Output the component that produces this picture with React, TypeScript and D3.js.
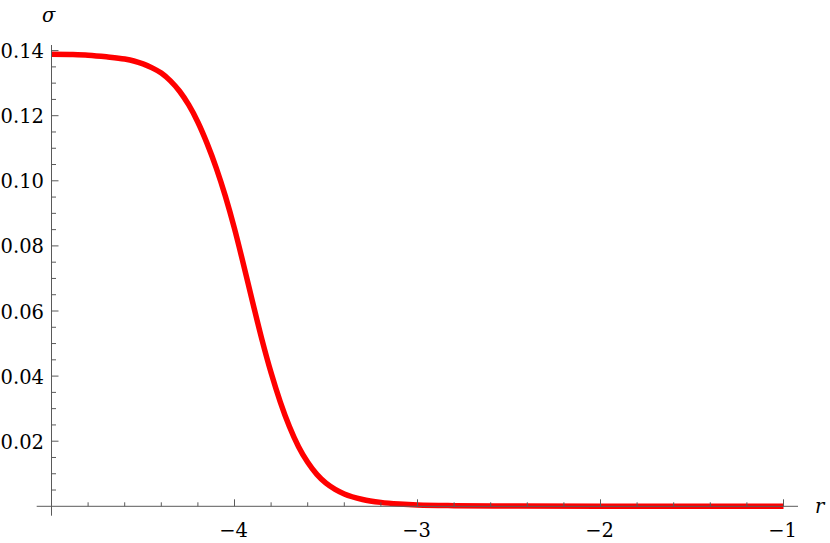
import { useEffect, useRef } from 'react';
import * as d3 from 'd3';

// values (r along x, sigma along y)
const rValues = [-5, -4.9, -4.8, -4.7, -4.6, -4.55, -4.5, -4.45, -4.4, -4.35, -4.3, -4.25, -4.2, -4.15, -4.1, -4.05, -4.0, -3.95, -3.9, -3.85, -3.8, -3.75, -3.7, -3.65, -3.6, -3.55, -3.5, -3.45, -3.4, -3.3, -3.2, -3.1, -3.0, -2.8, -2.5, -2.0, -1.5, -1.0];
const sigmaValues = [0.1389, 0.1388, 0.1386, 0.1381, 0.1374, 0.1368, 0.1359, 0.1347, 0.1331, 0.1307, 0.1275, 0.1233, 0.1180, 0.1115, 0.1040, 0.0953, 0.0853, 0.0741, 0.0625, 0.0512, 0.0410, 0.0321, 0.0245, 0.0183, 0.0135, 0.0098, 0.0071, 0.0052, 0.0038, 0.0021, 0.0012, 0.0007, 0.0004, 0.0002, 0.0001, 0, 0, 0];

const xMajorTicks = [-4, -3, -2, -1];
const yMajorTicks = [0.02, 0.04, 0.06, 0.08, 0.1, 0.12, 0.14];
const yTickLabels = ['0.02', '0.04', '0.06', '0.08', '0.10', '0.12', '0.14'];

export default function App() {
    const ref = useRef<SVGSVGElement>(null);

    useEffect(() => {
        const svg = d3.select(ref.current);
        svg.selectAll('*').remove();

        const x = d3.scaleLinear().domain([-5, -1]).range([51.5, 783.5]);
        const y = d3.scaleLinear().domain([0, 0.14]).range([506.3, 50.6]);
        const axisColor = '#5a5a5a';
        const font = "'DejaVu Serif', serif";
        const fontSize = '19.5px';

        // curve first, axes get drawn over it
        const pts = rValues.map((r, i) => [r, sigmaValues[i]] as [number, number]);
        svg.append('path')
            .datum(pts)
            .attr('fill', 'none')
            .attr('stroke', '#ff0000')
            .attr('stroke-width', 5.5)
            .attr('stroke-linejoin', 'round')
            .attr('d', d3.line<[number, number]>()
                .x(d => x(d[0]))
                .y(d => y(d[1]))
                .curve(d3.curveMonotoneX)
            );

        const axes = svg.append('g');

        // x axis
        axes.append('line')
            .attr('x1', 36.7).attr('x2', 798)
            .attr('y1', y(0)).attr('y2', y(0))
            .attr('stroke', axisColor).attr('stroke-width', 1);
        const xMinor = d3.range(-5, -0.99, 0.2).map(v => +v.toFixed(2));
        axes.selectAll('.xminor')
            .data(xMinor.filter(v => !xMajorTicks.includes(v) && v !== -5))
            .join('line')
            .attr('x1', d => x(d)).attr('x2', d => x(d))
            .attr('y1', y(0)).attr('y2', y(0) - 4)
            .attr('stroke', axisColor).attr('stroke-width', 1);
        axes.selectAll('.xmajor')
            .data(xMajorTicks)
            .join('line')
            .attr('x1', d => x(d)).attr('x2', d => x(d))
            .attr('y1', y(0)).attr('y2', y(0) - 7)
            .attr('stroke', axisColor).attr('stroke-width', 1);
        axes.selectAll('.xlabel')
            .data(xMajorTicks)
            .join('text')
            .attr('x', d => x(d) - 1)
            .attr('y', 537.3)
            .attr('text-anchor', 'middle')
            .style('font-family', font)
            .style('font-size', fontSize)
            .text(d => '\u2212' + Math.abs(d));

        // y axis
        axes.append('line')
            .attr('x1', x(-5)).attr('x2', x(-5))
            .attr('y1', 45).attr('y2', 515.7)
            .attr('stroke', axisColor).attr('stroke-width', 1);
        const yMinor = d3.range(0.005, 0.1401, 0.005).map(v => +v.toFixed(3));
        axes.selectAll('.yminor')
            .data(yMinor.filter(v => !yMajorTicks.some(m => Math.abs(m - v) < 1e-6)))
            .join('line')
            .attr('x1', x(-5)).attr('x2', x(-5) + 4.5)
            .attr('y1', d => y(d)).attr('y2', d => y(d))
            .attr('stroke', axisColor).attr('stroke-width', 1);
        axes.selectAll('.ymajor')
            .data(yMajorTicks)
            .join('line')
            .attr('x1', x(-5)).attr('x2', x(-5) + 7)
            .attr('y1', d => y(d)).attr('y2', d => y(d))
            .attr('stroke', axisColor).attr('stroke-width', 1);
        axes.selectAll('.ylabel')
            .data(yMajorTicks)
            .join('text')
            .attr('x', 44)
            .attr('y', d => y(d) + 7.5)
            .attr('text-anchor', 'end')
            .style('font-family', font)
            .style('font-size', fontSize)
            .text((d, i) => yTickLabels[i]);

        // axis names
        svg.append('text')
            .attr('x', 42).attr('y', 21.7)
            .style('font-family', font)
            .style('font-style', 'italic')
            .style('font-size', fontSize)
            .text('\u03c3');
        svg.append('text')
            .attr('x', 815).attr('y', 513.3)
            .style('font-family', font)
            .style('font-style', 'italic')
            .style('font-size', fontSize)
            .text('r');
    }, []);

    return (
        <svg ref={ref} width={830} height={543}
            style={{ position: 'absolute', left: 0, top: 0, background: 'white' }} />
    );
}
